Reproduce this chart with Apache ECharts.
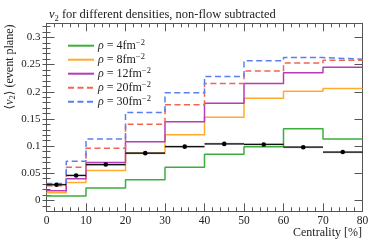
<!DOCTYPE html>
<html>
<head>
<meta charset="utf-8">
<script src="https://cdn.jsdelivr.net/npm/echarts@6/dist/echarts.min.js"></script>
<style>html,body{margin:0;padding:0;background:#fff;}#c{width:374px;height:243px;}</style>
</head>
<body>
<div id="c"></div>
<script>
// bin edges (centrality %)
const edges = [0, 5, 10, 20, 30, 40, 50, 60, 70, 80];
const binCenters = [2.5, 7.5, 15, 25, 35, 45, 55, 65, 75];
// v2 per bin for each density
const rho4 = [0.008, 0.008, 0.023, 0.038, 0.061, 0.085, 0.099, 0.132, 0.113];
const rho8 = [0.014, 0.033, 0.055, 0.087, 0.121, 0.153, 0.188, 0.201, 0.206];
const rho12 = [0.018, 0.040, 0.070, 0.108, 0.145, 0.179, 0.215, 0.235, 0.245];
const rho20 = [0.027, 0.061, 0.096, 0.140, 0.176, 0.215, 0.238, 0.253, 0.258];
const rho30 = [0.031, 0.072, 0.113, 0.162, 0.198, 0.228, 0.257, 0.263, 0.260];
// measured points
const dataV2 = [0.029, 0.046, 0.066, 0.087, 0.099, 0.104, 0.103, 0.098, 0.089];
const dataErr = [0.002, 0.002, 0.002, 0.002, 0.002, 0.002, 0.002, 0.002, 0.002];
// ticks
const yMajor = [0, 0.05, 0.1, 0.15, 0.2, 0.25, 0.3];
const yMinor = [-0.01, 0, 0.01, 0.02, 0.03, 0.04, 0.05, 0.06, 0.07, 0.08, 0.09, 0.1, 0.11, 0.12, 0.13, 0.14, 0.15, 0.16, 0.17, 0.18, 0.19, 0.2, 0.21, 0.22, 0.23, 0.24, 0.25, 0.26, 0.27, 0.28, 0.29, 0.3, 0.31, 0.32];
const legendNames = ['4', '8', '12', '20', '30'];

const FONT = '"Liberation Serif", "DejaVu Serif", serif';
const AX = '#555';
const TXT = '#222';

function stepData(vals) {
  const d = vals.map((v, i) => [edges[i], v]);
  d.push([edges[edges.length - 1], vals[vals.length - 1]]);
  return d;
}

const seriesDefs = [
  {name: legendNames[0], vals: rho4, color: '#3cae3c', type: 'solid'},
  {name: legendNames[1], vals: rho8, color: '#ffab2e', type: 'solid'},
  {name: legendNames[2], vals: rho12, color: '#b43cba', type: 'solid'},
  {name: legendNames[3], vals: rho20, color: '#f26552', type: [6, 3.5]},
  {name: legendNames[4], vals: rho30, color: '#5b80ec', type: [6, 3.5]}
];

const series = seriesDefs.map(s => ({
  name: s.name,
  type: 'line',
  step: 'end',
  symbol: 'none',
  data: stepData(s.vals),
  lineStyle: {color: s.color, width: 1.5, type: s.type},
  itemStyle: {color: s.color},
  z: 3
}));

series.push({
  type: 'custom',
  name: 'data',
  z: 5,
  data: binCenters.map((c, i) => [c, dataV2[i], edges[i], edges[i + 1], dataErr[i]]),
  renderItem: function (params, api) {
    const p = api.coord([api.value(0), api.value(1)]);
    const l = api.coord([api.value(2), api.value(1)]);
    const r = api.coord([api.value(3), api.value(1)]);
    const top = api.coord([api.value(2), api.value(1) + api.value(4)]);
    const bot = api.coord([api.value(2), api.value(1) - api.value(4)]);
    return {
      type: 'group',
      children: [
        {type: 'rect', shape: {x: l[0], y: top[1], width: r[0] - l[0], height: bot[1] - top[1]}, style: {fill: 'rgba(0,0,0,0.22)'}},
        {type: 'line', shape: {x1: l[0], y1: l[1], x2: r[0], y2: r[1]}, style: {stroke: '#111', lineWidth: 1.2}},
        {type: 'circle', shape: {cx: p[0], cy: p[1], r: 2.3}, style: {fill: '#000'}}
      ]
    };
  }
});

const yCommon = {
  type: 'value', min: -0.02, max: 0.326, splitLine: {show: false}
};

const option = {
  animation: false,
  backgroundColor: '#fff',
  textStyle: {fontFamily: FONT},
  grid: {left: 46.5, right: 11.5, top: 23.3, bottom: 31.7, containLabel: false},
  title: {
    text: '{v|v}{s|2} for different densities, non-flow subtracted',
    left: 44, top: 2,
    textStyle: {
      fontFamily: FONT, fontSize: 12.5, fontWeight: 'normal', color: TXT, lineHeight: 16,
      rich: {
        v: {fontFamily: FONT, fontStyle: 'italic', fontSize: 12.5, color: TXT, lineHeight: 16},
        s: {fontFamily: FONT, fontSize: 8.5, verticalAlign: 'bottom', lineHeight: 16, color: TXT}
      }
    }
  },
  legend: {
    orient: 'vertical',
    left: 62, top: 33.7,
    itemWidth: 26, itemHeight: 10, itemGap: 0,
    itemStyle: {opacity: 0},
    data: legendNames,
    formatter: function (n) { return '{r|ρ} = ' + n + 'fm{s|−2}'; },
    textStyle: {
      fontFamily: FONT, fontSize: 12, color: TXT, lineHeight: 14, padding: [0, 0, 0, -1],
      rich: {
        r: {fontFamily: FONT, fontStyle: 'italic', fontSize: 12, color: TXT, lineHeight: 14},
        s: {fontFamily: FONT, fontSize: 8.5, verticalAlign: 'top', lineHeight: 14, color: TXT}
      }
    }
  },
  graphic: [
    {
      type: 'text', x: 10, y: 67, rotation: Math.PI / 2,
      style: {
        text: '⟨{v|v}{s|2}⟩ (event plane)',
        font: '12px ' + FONT, fill: TXT, align: 'center', verticalAlign: 'middle',
        rich: {
          v: {fontFamily: FONT, fontStyle: 'italic', fontSize: 12, fill: TXT, lineHeight: 15},
          s: {fontFamily: FONT, fontSize: 8.5, fill: TXT, verticalAlign: 'bottom', lineHeight: 15}
        }
      }
    },
    {
      type: 'text', x: 362, y: 233,
      style: {text: 'Centrality [%]', font: '12px ' + FONT, fill: TXT, align: 'right', verticalAlign: 'middle'}
    }
  ],
  xAxis: [
    {
      type: 'value', min: 0, max: 80, interval: 10, position: 'bottom',
      axisLine: {show: true, onZero: false, lineStyle: {color: AX, width: 1}},
      axisTick: {show: true, inside: true, length: 8, lineStyle: {color: AX}},
      minorTick: {show: true, splitNumber: 5, length: 4, lineStyle: {color: AX}},
      axisLabel: {fontFamily: FONT, fontSize: 11.5, color: TXT, margin: 4},
      splitLine: {show: false}, minorSplitLine: {show: false}
    },
    {
      type: 'value', min: 0, max: 80, interval: 10, position: 'top',
      axisLine: {show: true, onZero: false, lineStyle: {color: AX, width: 1}},
      axisTick: {show: true, inside: true, length: 8, lineStyle: {color: AX}},
      minorTick: {show: true, splitNumber: 5, length: 4, lineStyle: {color: AX}},
      axisLabel: {show: false},
      splitLine: {show: false}, minorSplitLine: {show: false}
    }
  ],
  yAxis: [
    Object.assign({}, yCommon, {
      position: 'left',
      axisLine: {show: true, onZero: false, lineStyle: {color: AX, width: 1}},
      axisTick: {show: true, inside: true, length: 8, customValues: yMajor, lineStyle: {color: AX}},
      axisLabel: {
        customValues: yMajor, fontFamily: FONT, fontSize: 11, color: TXT, margin: 6,
        formatter: v => String(Math.round(v * 100) / 100)
      }
    }),
    Object.assign({}, yCommon, {
      position: 'left',
      axisLine: {show: false},
      axisTick: {show: true, inside: true, length: 4, customValues: yMinor, lineStyle: {color: AX}},
      axisLabel: {show: false}
    }),
    Object.assign({}, yCommon, {
      position: 'right',
      axisLine: {show: true, onZero: false, lineStyle: {color: AX, width: 1}},
      axisTick: {show: true, inside: true, length: 8, customValues: yMajor, lineStyle: {color: AX}},
      axisLabel: {show: false}
    }),
    Object.assign({}, yCommon, {
      position: 'right',
      axisLine: {show: false},
      axisTick: {show: true, inside: true, length: 4, customValues: yMinor, lineStyle: {color: AX}},
      axisLabel: {show: false}
    })
  ],
  series: series
};

const chart = echarts.init(document.getElementById('c'), null, {renderer: 'canvas'});
chart.setOption(option);
</script>
</body>
</html>
